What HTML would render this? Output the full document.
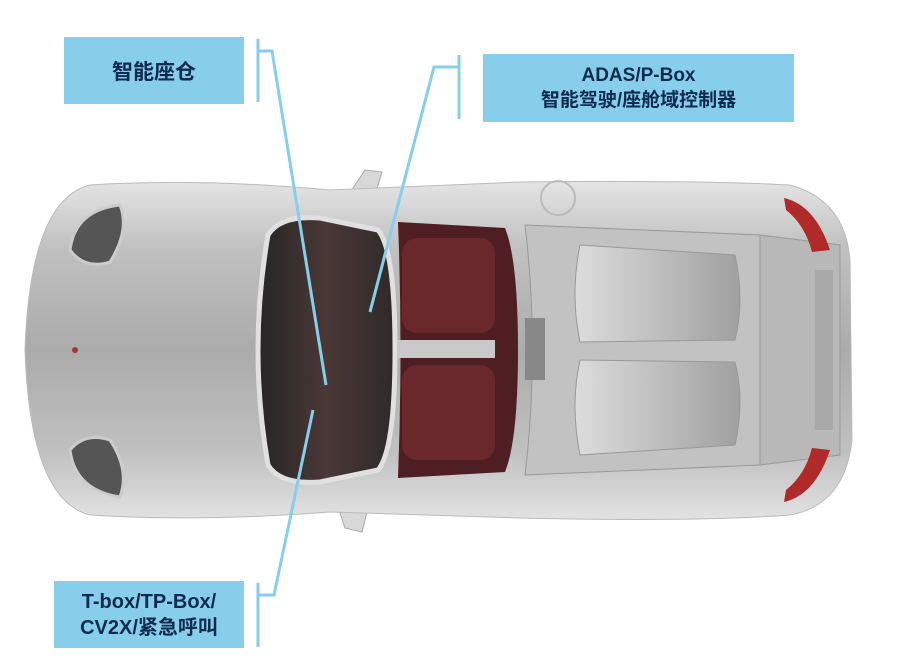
<!DOCTYPE html>
<html><head><meta charset="utf-8"><style>
html,body{margin:0;padding:0;background:#fff;}
.w{position:relative;width:919px;height:671px;overflow:hidden;font-family:"Liberation Sans","Noto Sans CJK SC",sans-serif;}
.box{position:absolute;background:#87ceeb;color:#0f2a4d;font-weight:bold;display:flex;align-items:center;justify-content:center;text-align:center;}
</style></head><body><div class="w">
<svg width="919" height="671" style="position:absolute;left:0;top:0">
<defs>
<linearGradient id="bd" x1="0" y1="0" x2="0" y2="1">
<stop offset="0" stop-color="#e4e4e4"/><stop offset="0.2" stop-color="#c0c0c0"/><stop offset="0.5" stop-color="#ababab"/><stop offset="0.8" stop-color="#c0c0c0"/><stop offset="1" stop-color="#e2e2e2"/></linearGradient>
<linearGradient id="ws" x1="0" y1="0" x2="1" y2="0">
<stop offset="0" stop-color="#262626"/><stop offset="0.5" stop-color="#4a3836"/><stop offset="1" stop-color="#2e2a2a"/></linearGradient>
<linearGradient id="en" x1="0" y1="0" x2="1" y2="0">
<stop offset="0" stop-color="#dcdcdc"/><stop offset="1" stop-color="#a0a0a0"/></linearGradient>
</defs>
<path d="M345 200 L365 170 L382 172 L372 205 Z" fill="#d8d8d8" stroke="#aaa"/>
<path d="M335 498 L370 500 L362 532 L345 528 Z" fill="#d8d8d8" stroke="#aaa"/>
<path d="M90 185 Q200 178 330 190 L520 182 Q700 180 790 185 Q845 200 850 260 L852 440 Q845 505 790 515 Q700 522 520 518 L330 512 Q200 522 90 515 Q30 500 25 350 Q30 200 90 185 Z" fill="url(#bd)" stroke="#bbb"/>
<path d="M760 235 L840 245 L840 455 L760 465 Z" fill="#b8b8b8" stroke="#999"/>
<rect x="815" y="270" width="18" height="160" fill="#999" opacity="0.5"/>
<path d="M784 198 Q815 205 830 250 L812 252 Q805 225 786 210 Z" fill="#b02a2a"/>
<path d="M784 502 Q815 495 830 450 L812 448 Q805 475 786 490 Z" fill="#b02a2a"/>
<path d="M70 250 Q75 210 120 205 Q130 230 110 262 Q85 270 70 250 Z" fill="#555" stroke="#ccc" stroke-width="3"/>
<path d="M70 450 Q75 490 120 497 Q130 470 110 440 Q85 432 70 450 Z" fill="#555" stroke="#ccc" stroke-width="3"/>
<circle cx="75" cy="350" r="3" fill="#a33"/>
<path d="M268 235 Q280 215 320 218 L378 230 Q395 250 395 350 Q395 450 378 470 L320 482 Q280 485 268 465 Q248 350 268 235 Z" fill="url(#ws)" stroke="#e0e0e0" stroke-width="5"/>
<path d="M398 222 L505 228 Q518 260 518 350 Q518 440 505 472 L398 478 Q403 350 398 222 Z" fill="#4e1e22"/>
<rect x="402" y="238" width="93" height="95" rx="15" fill="#6a282c"/>
<rect x="402" y="365" width="93" height="95" rx="15" fill="#6a282c"/>
<rect x="398" y="340" width="97" height="18" fill="#c9c9c9"/>
<path d="M525 225 L760 235 L760 465 L525 475 Q540 350 525 225 Z" fill="#c2c2c2" stroke="#999"/>
<rect x="525" y="318" width="20" height="62" fill="#888"/>
<path d="M580 245 L735 255 Q745 300 735 340 L580 342 Q570 295 580 245 Z" fill="url(#en)" stroke="#999"/>
<path d="M580 360 L735 362 Q745 400 735 445 L580 455 Q570 405 580 360 Z" fill="url(#en)" stroke="#999"/>
<circle cx="558" cy="198" r="17" fill="none" stroke="#bbb" stroke-width="2"/>
<g stroke="#87ceeb" stroke-width="3" fill="none">
<line x1="258" y1="39" x2="258" y2="102"/>
<polyline points="258,51 272,51 326,385"/>
<line x1="459" y1="55" x2="459" y2="119"/>
<polyline points="459,67 434,67 370,312"/>
<line x1="258" y1="583" x2="258" y2="647"/>
<polyline points="258,595 274,595 313,410"/>
</g>
</svg>
<div class="box" style="left:64px;top:37px;width:180px;height:67px;font-size:21px;">智能座仓</div>
<div class="box" style="left:483px;top:54px;width:311px;height:68px;font-size:19px;line-height:25px;">ADAS/P-Box<br>智能驾驶/座舱域控制器</div>
<div class="box" style="left:54px;top:581px;width:190px;height:67px;font-size:20px;line-height:26px;">T-box/TP-Box/<br>CV2X/紧急呼叫</div>
</div></body></html>
